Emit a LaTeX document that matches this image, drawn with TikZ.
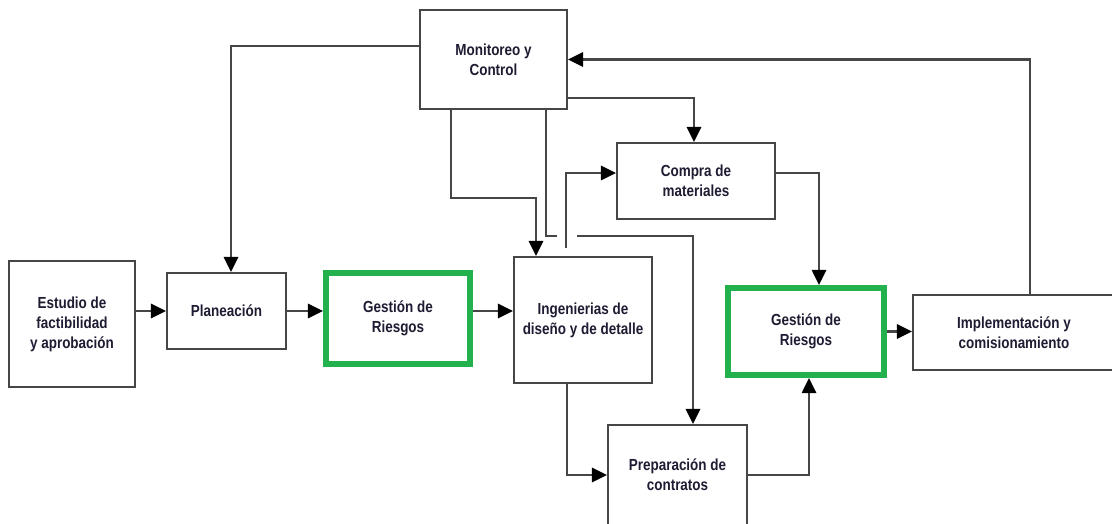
\documentclass[tikz,border=0pt]{standalone}
\usepackage{fontspec}
\setmainfont{Liberation Sans}[FakeStretch=0.84]
\usepackage{xcolor}
\usepackage{tikz}
\usetikzlibrary{arrows.meta}
\definecolor{riskgreen}{RGB}{34,177,76}
\definecolor{linegray}{RGB}{70,70,70}
\definecolor{textnavy}{RGB}{30,28,50}

\begin{document}
\begin{tikzpicture}[x=0.025cm, y=-0.025cm,
  box/.style={draw=linegray, line width=1.4pt, fill=white, align=center,
    font=\fontsize{11.4}{14.2}\selectfont\bfseries, text=textnavy, inner sep=0pt},
  riskbox/.style={box, draw=riskgreen, line width=4.3pt},
  link/.style={draw=linegray, line width=1.5pt},
  arr/.style={link, -{Triangle[length=0.38cm, width=0.36cm]}, arrows={[color=black]}}]
\useasboundingbox (0,0) rectangle (1112,524);

% Process boxes
\node[box, minimum width=3.675cm, minimum height=2.475cm] (mon) at (493.5,59.5) {Monitoreo y\\Control};
\node[box, minimum width=3.95cm, minimum height=1.9cm] (compra) at (696,181) {Compra de\\materiales};
\node[box, minimum width=3.15cm, minimum height=3.15cm] (est) at (72,324) {Estudio de\\factibilidad\\y aprobación};
\node[box, minimum width=2.975cm, minimum height=1.9cm] (plan) at (226.5,311) {Planeación};
\node[riskbox, minimum width=3.6cm, minimum height=2.275cm] (gr1) at (398,318.5) {Gestión de\\Riesgos};
\node[box, minimum width=3.45cm, minimum height=3.15cm] (ing) at (583,320) {Ingenierias de\\diseño y de detalle};
\node[riskbox, minimum width=3.9cm, minimum height=2.175cm] (gr2) at (806,331.5) {Gestión de\\Riesgos};
\node[box, minimum width=5.05cm, minimum height=1.875cm] (impl) at (1014,332.5) {Implementación y\\comisionamiento};
\node[box, minimum width=3.475cm, minimum height=2.5cm] (prep) at (677.5,475) {Preparación de\\contratos};

% Main flow
\draw[arr] (est.east |- plan.west) -- (plan.west);
\draw[arr] (plan.east) -- (gr1.west |- plan.east);
\draw[arr] (gr1.east |- plan.east) -- (ing.west |- plan.east);
\draw[arr] (gr2.east) -- (impl.west |- gr2.east);

% Control links
\draw[arr] (mon.west |- 0,46) -| (231,0 |- plan.north);
\draw[arr] (451,0 |- mon.south) |- (536,198) -- (536,0 |- ing.north);
\draw[arr] (mon.east |- 0,98) -| (694,0 |- compra.north);
\draw[arr] (1030,0 |- impl.north) |- (mon.east);

% Link to contracts, broken where it crosses
\coordinate (gapL) at (557,236);
\coordinate (gapR) at (577,236);
\coordinate (ingtop) at (566,248);
\draw[link] (546,0 |- mon.south) |- (gapL);
\draw[arr] (gapR) -| (693,0 |- prep.north);

% Engineering outputs
\draw[arr] (ingtop) |- (compra.west |- 0,173);
\draw[arr] (567,0 |- ing.south) |- (prep.west);
\draw[arr] (compra.east |- 0,173) -| (819,0 |- gr2.north);
\draw[arr] (prep.east) -| (809,0 |- gr2.south);
\end{tikzpicture}
\end{document}
